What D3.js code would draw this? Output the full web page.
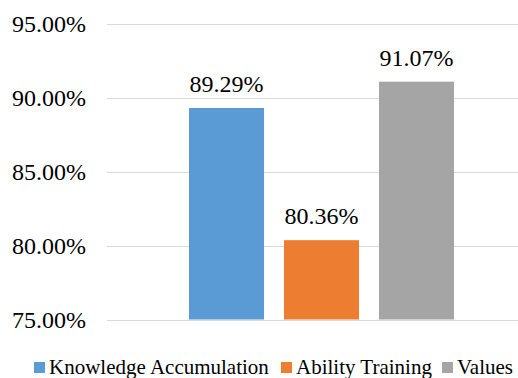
<!DOCTYPE html>
<html>
<head>
<meta charset="utf-8">
<script src="https://cdn.jsdelivr.net/npm/d3@7"></script>
</head>
<body style="margin:0">
<div id="chart"></div>
<script>
// data
const series = ["Knowledge Accumulation", "Ability Training", "Values"];
const values = [89.29, 80.36, 91.07];
const colors = ["#5b9bd5", "#ed7d31", "#a5a5a5"];
const yTicks = [75, 80, 85, 90, 95];

const width = 518, height = 378;
const font = `"Times New Roman", "Liberation Serif", Tinos`;

const svg = d3.select("#chart").append("svg")
    .attr("width", width)
    .attr("height", height)
    .style("font-family", font);

const y = d3.scaleLinear()
    .domain([75, 95])
    .range([319.5, 23.5]);

const x = d3.scaleBand()
    .domain(series)
    .range([189, 454])
    .paddingInner(0.21)
    .paddingOuter(0);

// gridlines
svg.selectAll("line.grid")
    .data(yTicks)
    .join("line")
    .attr("class", "grid")
    .attr("x1", 107)
    .attr("x2", width)
    .attr("y1", d => Math.round(y(d)) + 0.5)
    .attr("y2", d => Math.round(y(d)) + 0.5)
    .attr("stroke", "#d9d9d9")
    .attr("stroke-width", 1);

// bars
svg.selectAll("rect.bar")
    .data(values)
    .join("rect")
    .attr("class", "bar")
    .attr("x", (d, i) => x(series[i]))
    .attr("width", x.bandwidth())
    .attr("y", d => y(d))
    .attr("height", d => y(75) - y(d))
    .attr("fill", (d, i) => colors[i]);

// y axis labels
svg.selectAll("text.ytick")
    .data(yTicks)
    .join("text")
    .attr("class", "ytick")
    .attr("x", 86)
    .attr("y", d => y(d) + 8)
    .attr("text-anchor", "end")
    .style("font-family", font)
    .style("font-size", "24px")
    .text(d => d.toFixed(2) + "%");

// value labels
svg.selectAll("text.val")
    .data(values)
    .join("text")
    .attr("class", "val")
    .attr("x", (d, i) => x(series[i]) + x.bandwidth() / 2)
    .attr("y", d => y(d) - 16)
    .attr("text-anchor", "middle")
    .style("font-family", font)
    .style("font-size", "24px")
    .text(d => d.toFixed(2) + "%");

// legend
const legendX = [34, 281, 442];
svg.selectAll("rect.key")
    .data(series)
    .join("rect")
    .attr("class", "key")
    .attr("x", (d, i) => legendX[i])
    .attr("y", 362)
    .attr("width", 11)
    .attr("height", 11)
    .attr("fill", (d, i) => colors[i]);

svg.selectAll("text.key")
    .data(series)
    .join("text")
    .attr("class", "key")
    .attr("x", (d, i) => legendX[i] + 15)
    .attr("y", 374)
    .style("font-family", font)
    .style("font-size", "21px")
    .text(d => d);
</script>
</body>
</html>
